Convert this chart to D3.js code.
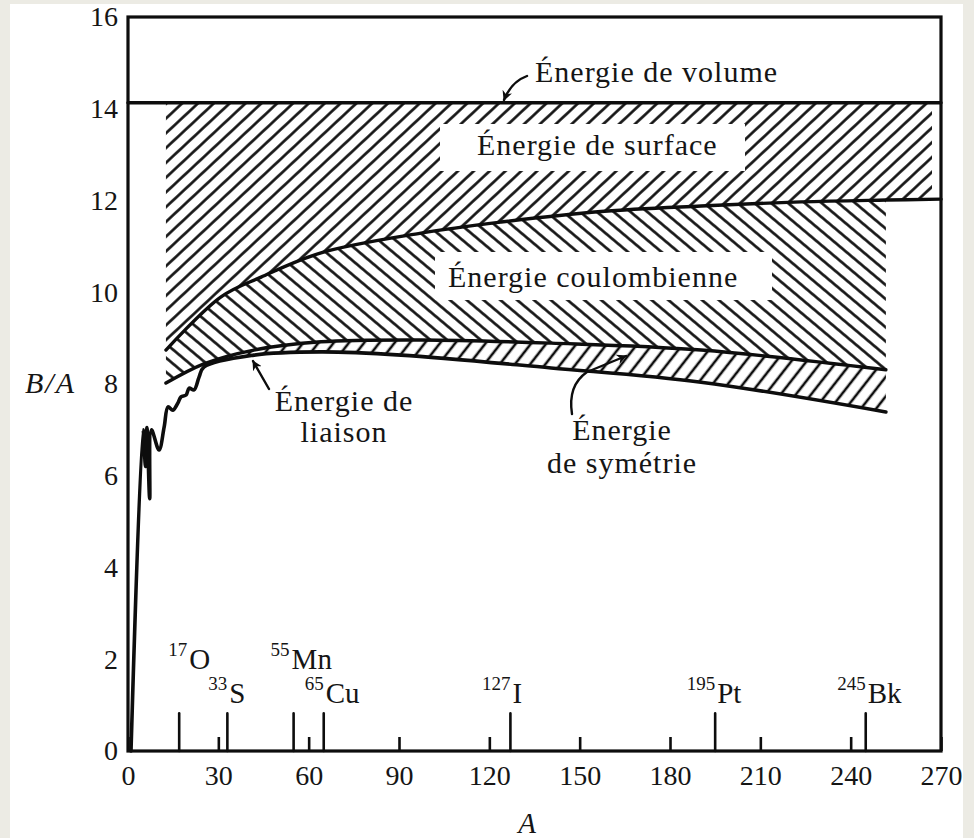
<!DOCTYPE html>
<html><head><meta charset="utf-8">
<script src="https://cdn.jsdelivr.net/npm/d3@7"></script>
<style>
html,body{margin:0;padding:0;background:#ecebe4;}
svg{display:block;}
</style></head><body>
<svg id="c" width="974" height="838" font-family="'Liberation Serif', 'Times New Roman', 'DejaVu Serif', serif"></svg>
<script>
// ---------- data ----------
const xTickValues = [0, 30, 60, 90, 120, 150, 180, 210, 240, 270];
const yTickValues = [0, 2, 4, 6, 8, 10, 12, 14, 16];

const volumeLevel = 14.13;

const surfaceA  = [12.6, 30.9, 44.2, 64.1, 97.3, 123.9, 157.1, 190.3, 223.5, 251.7, 270];
const surfaceBA = [8.74, 9.90, 10.33, 10.86, 11.29, 11.53, 11.76, 11.88, 11.97, 12.01, 12.03];

const coulombA  = [12.6, 25.2, 41.8, 64.1, 97.3, 140.5, 190.3, 251.7];
const coulombBA = [8.02, 8.44, 8.74, 8.92, 8.96, 8.89, 8.74, 8.31];

const bindingA  = [1, 5.0, 5.8, 6.3, 7.2, 7.8, 10.3, 12.0, 13.3, 14.9, 16.6, 17.6, 19.3, 20.3, 21.9, 23.6, 25.2, 41.8, 64.1, 90.7, 140.5, 190.3, 251.7];
const bindingBA = [0, 7.0, 6.2, 7.05, 5.5, 7.0, 6.56, 7.06, 7.5, 7.43, 7.59, 7.72, 7.76, 7.91, 7.87, 8.15, 8.37, 8.63, 8.70, 8.63, 8.35, 8.04, 7.39];

const isotopeA      = [17, 33, 55, 65, 127, 195, 245];
const isotopeMass   = ['17', '33', '55', '65', '127', '195', '245'];
const isotopeSymbol = ['O', 'S', 'Mn', 'Cu', 'I', 'Pt', 'Bk'];

// ---------- setup ----------
const FONT = "'Liberation Serif', 'Times New Roman', 'DejaVu Serif', serif";
const svg = d3.select('#c');
svg.append('rect').attr('x', 10).attr('y', 4).attr('width', 953).attr('height', 834).attr('fill', '#fff');

const x = d3.scaleLinear().domain([0, 270]).range([128, 941]);
const y = d3.scaleLinear().domain([0, 16]).range([751, 17]);

const ink = '#0d0d0d';
const defs = svg.append('defs');
function hatch(id, spacing, rot, w) {
  const p = defs.append('pattern').attr('id', id).attr('patternUnits', 'userSpaceOnUse')
    .attr('width', spacing).attr('height', spacing).attr('patternTransform', `rotate(${rot})`);
  p.append('line').attr('x1', spacing / 2).attr('x2', spacing / 2).attr('y1', -1).attr('y2', spacing + 1)
    .attr('stroke', ink).attr('stroke-width', w);
}
hatch('hSurf', 10.8, 47, 2.6);
hatch('hCoul', 10.8, -50, 2.6);
hatch('hSym', 12.0, 38, 2.6);

defs.append('clipPath').attr('id', 'surfClip').append('rect')
  .attr('x', x(0)).attr('y', y(16)).attr('width', x(267) - x(0)).attr('height', y(0) - y(16));

defs.append('marker').attr('id', 'arr').attr('viewBox', '0 0 10 10').attr('refX', 9).attr('refY', 5)
  .attr('markerWidth', 10).attr('markerHeight', 10).attr('orient', 'auto-start-reverse').attr('markerUnits', 'userSpaceOnUse')
  .append('path').attr('d', 'M0,0 L10,5 L0,10 L3,5 Z').attr('fill', ink);

const pts = (A, V) => A.map((a, i) => [x(a), y(V[i])]);
const lineGen = d3.line().curve(d3.curveCatmullRom.alpha(0.5));
function band(top, bot) {
  const t = lineGen(top);
  const b = lineGen(bot.slice().reverse());
  return t + 'L' + b.slice(1) + 'Z';
}

const surfPts = pts(surfaceA, surfaceBA);
const coulPts = pts(coulombA, coulombBA);
const bindPts = pts(bindingA, bindingBA);

// surface band
const volTop = [[x(surfaceA[0]), y(volumeLevel)], [x(270), y(volumeLevel)]];
svg.append('path').attr('d', band(volTop, surfPts)).attr('fill', 'url(#hSurf)').attr('clip-path', 'url(#surfClip)');

// coulomb band
const coulTop = surfPts.filter((p, i) => surfaceA[i] <= coulombA[coulombA.length - 1]);
svg.append('path').attr('d', band(coulTop, coulPts)).attr('fill', 'url(#hCoul)');

// symmetry strip
const symStart = 25.2;
const symTop = coulPts.filter((p, i) => coulombA[i] >= symStart);
const symBot = bindPts.filter((p, i) => bindingA[i] >= symStart);
svg.append('path').attr('d', band(symTop, symBot)).attr('fill', 'url(#hSym)');

// label knock-outs
svg.append('rect').attr('x', 440).attr('y', 124).attr('width', 305).attr('height', 47).attr('fill', '#fff');
svg.append('rect').attr('x', 435).attr('y', 252).attr('width', 337).attr('height', 48).attr('fill', '#fff');

// curves
const stroke = (sel, w) => sel.attr('fill', 'none').attr('stroke', ink).attr('stroke-width', w)
  .attr('stroke-linejoin', 'round').attr('stroke-linecap', 'round');
stroke(svg.append('path').attr('d', d3.line()([[x(0), y(volumeLevel)], [x(270), y(volumeLevel)]])), 3.4);
stroke(svg.append('path').attr('d', lineGen(surfPts)), 3.4);
stroke(svg.append('path').attr('d', lineGen(coulPts)), 3.4);
stroke(svg.append('path').attr('d', lineGen(bindPts)), 3.6);

// frame
stroke(svg.append('rect').attr('x', x(0)).attr('y', y(16)).attr('width', x(270) - x(0)).attr('height', y(0) - y(16)), 3.2)
  .attr('stroke-linejoin', 'miter');

// axes
const fs = 28;
const gx = svg.append('g').attr('transform', `translate(0,${y(0)})`)
  .call(d3.axisBottom(x).tickValues(xTickValues).tickSizeInner(-14).tickSizeOuter(0).tickPadding(14));
gx.select('.domain').remove();
gx.attr('font-family', FONT).attr('font-size', fs);
gx.selectAll('line').attr('stroke', ink).attr('stroke-width', 2.6);
gx.selectAll('text').attr('fill', '#151515');

const gy = svg.append('g').attr('transform', `translate(${x(0)},0)`)
  .call(d3.axisLeft(y).tickValues(yTickValues).tickSize(0).tickPadding(10));
gy.select('.domain').remove();
gy.attr('font-family', FONT).attr('font-size', fs);
gy.selectAll('text').attr('fill', '#151515');

// text helper
const txt = (tx, ty, str, size, anchor) => svg.append('text').attr('x', tx).attr('y', ty)
  .attr('font-family', FONT).attr('font-size', size).attr('fill', '#151515')
  .attr('text-anchor', anchor || 'start').text(str);

// axis titles
txt(25, 393, 'B/A', 30).attr('font-style', 'italic').attr('letter-spacing', 2);
txt(527, 833, 'A', 29, 'middle').attr('font-style', 'italic');

// isotope markers
const raised = new Set(['O', 'Mn']);
isotopeA.forEach((a, i) => {
  stroke(svg.append('line').attr('x1', x(a)).attr('x2', x(a)).attr('y1', y(0)).attr('y2', y(0.82)), 2.6);
  const base = raised.has(isotopeSymbol[i]) ? 669 : 703;
  const off = isotopeSymbol[i] === 'O' ? 8 : (isotopeSymbol[i] === 'Mn' ? -4 : 0);
  txt(x(a) + off, base - 13, isotopeMass[i], 19, 'end');
  txt(x(a) + off + 2, base, isotopeSymbol[i], 29);
});

// annotations
const ann = (tx, ty, str, anchor) => txt(tx, ty, str, 30, anchor).attr('letter-spacing', 1);
ann(535, 82, 'Énergie de volume');
ann(477, 155, 'Énergie de surface');
ann(448, 287, 'Énergie coulombienne');
ann(344, 411, 'Énergie de', 'middle');
ann(344, 442, 'liaison', 'middle');
ann(622, 440, 'Énergie', 'middle');
ann(622, 473, 'de symétrie', 'middle');

// arrows
stroke(svg.append('path').attr('d', 'M527,76 Q511,82 504,100'), 2.4).attr('marker-end', 'url(#arr)');
stroke(svg.append('path').attr('d', 'M269,389 L253,361'), 2.4).attr('marker-end', 'url(#arr)');
stroke(svg.append('path').attr('d', 'M572,414 C569,395 574,381 587,372 L626,356'), 2.4).attr('marker-end', 'url(#arr)');
</script></body></html>
